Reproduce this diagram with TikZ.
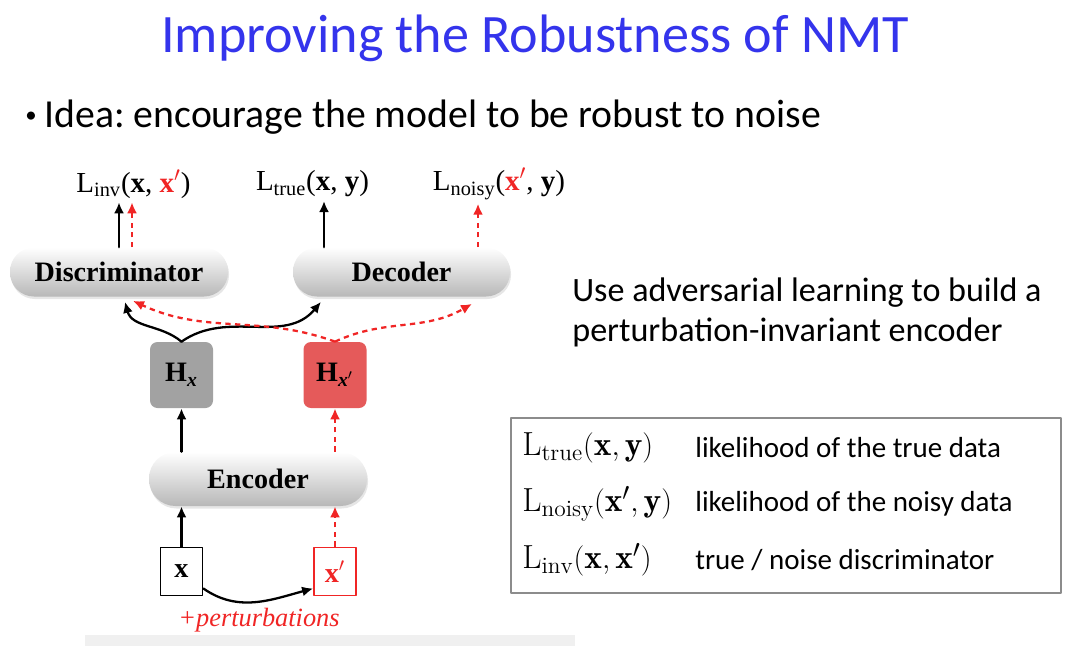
\documentclass[tikz,border=0pt]{standalone}
\usepackage{fontspec}
\usepackage{xcolor}
\usetikzlibrary{arrows.meta,shadows}
\newfontfamily\slidefont{Carlito}
\newfontfamily\paperfont{Liberation Serif}
\definecolor{titleblue}{HTML}{3434EC}
\definecolor{hxgray}{HTML}{A2A2A2}
\definecolor{hxred}{HTML}{E55A5A}
\definecolor{noisered}{HTML}{F02525}
\frenchspacing

\begin{document}
\begin{tikzpicture}[
		line cap=round,
		line join=round,
		pill/.style={rounded corners=0.48cm, minimum height=0.98cm, top color=white, bottom color=black!28,
			drop shadow={opacity=0.2, shadow xshift=0.02cm, shadow yshift=-0.05cm},
			font=\paperfont\fontsize{16}{18}\selectfont\bfseries},
		hstate/.style={rounded corners=0.15cm, minimum width=1.26cm, minimum height=1.32cm,
			font=\paperfont\fontsize{16}{18}\selectfont\bfseries},
		inbox/.style={draw, line width=1pt, minimum width=0.84cm, minimum height=0.96cm,
			font=\paperfont\fontsize{16}{18}\selectfont\bfseries},
		loss/.style={font=\paperfont\fontsize{16.5}{18}\selectfont, inner sep=2pt},
		clean/.style={-{Latex[length=2.2mm,width=2mm]}, line width=1.3pt},
		noisy/.style={-{Latex[length=2.2mm,width=2mm]}, line width=1.3pt, noisered, line cap=butt, dash pattern=on 3pt off 2.5pt}
		]
		\useasboundingbox (0,0) rectangle (21.6,12.92);
		\fill[black!6] (1.7,0) rectangle (11.5,0.22);
		
		\node[font=\slidefont\fontsize{30.8}{36}\selectfont, text=titleblue] (title) at (10.7,12.16) {Improving the Robustness of NMT};
		\node[anchor=west, inner sep=0, font=\slidefont\fontsize{22.6}{26}\selectfont] (idea) at (0.5,10.58)
			{\raisebox{0.12em}{\fontsize{13}{13}\selectfont\textbullet}\hspace{0.2em}Idea: encourage the model to be robust to noise};
		\node[anchor=west, align=left, inner sep=0, font=\slidefont\fontsize{19.4}{22.8}\selectfont] (advers) at (11.44,6.68)
			{Use adversarial learning to build a\\perturbation-invariant encoder};
		
		% Model (left)
		\node[pill, minimum width=4.36cm] (disc) at (2.38,7.48) {Discriminator};
		\node[pill, minimum width=4.34cm] (dec) at (8.03,7.48) {Decoder};
		\node[hstate, fill=hxgray] (hx) at (3.63,5.42) {H\textsubscript{\itshape x}};
		\node[hstate, fill=hxred] (hxn) at (6.70,5.42) {H\textsubscript{\itshape x$'$}};
		\node[pill, minimum width=4.36cm, minimum height=1.08cm, rounded corners=0.53cm] (enc) at (5.16,3.34) {Encoder};
		\node[inbox] (xin) at (3.63,1.49) {x};
		\node[inbox, draw=noisered, text=noisered] (xnoisy) at (6.70,1.49) {x$'$};
		\node[font=\paperfont\itshape\fontsize{15}{18}\selectfont, text=noisered] (pert) at (5.18,0.52) {+perturbations};
		
		\node[loss] (linv) at (2.67,9.24) {L\textsubscript{inv}(\textbf{x}, \textcolor{noisered}{\textbf{x}$'$})};
		\node[loss] (ltrue) at (6.25,9.24) {L\textsubscript{true}(\textbf{x}, \textbf{y})};
		\node[loss] (lnoisy) at (9.98,9.24) {L\textsubscript{noisy}(\textcolor{noisered}{\textbf{x}$'$}, \textbf{y})};
		
		\draw[clean] (disc.north) -- (disc.north |- linv.south);
		\draw[noisy] ([xshift=0.26cm]disc.north) -- ([xshift=0.26cm]disc.north |- linv.south);
		\draw[clean] ([xshift=-1.55cm]dec.north) -- ([xshift=-1.55cm]dec.north |- ltrue.south);
		\draw[noisy] ([xshift=1.53cm]dec.north) -- ([xshift=1.53cm]dec.north |- lnoisy.south);
		
		\draw[clean] (hx.north) to[out=140,in=-75] ([xshift=0.12cm,yshift=-0.1cm]disc.south);
		\draw[clean] (hx.north) to[out=35,in=-130] ([xshift=-1.61cm,yshift=-0.1cm]dec.south);
		\draw[noisy] (hxn.north) to[out=160,in=-25] ([xshift=0.28cm,yshift=-0.08cm]disc.south);
		\draw[noisy] (hxn.north) to[out=25,in=-150] ([xshift=1.41cm,yshift=-0.14cm]dec.south);
		
		\draw[clean] (enc.north -| hx.south) -- (hx.south);
		\draw[noisy] (enc.north -| hxn.south) -- (hxn.south);
		\draw[clean] (xin.north) -- (xin.north |- enc.south);
		\draw[noisy] (xnoisy.north) -- (xnoisy.north |- enc.south);
		\draw[clean] ([yshift=-0.34cm]xin.east) to[out=-35,in=-165] ([yshift=-0.34cm]xnoisy.west);
		
		% Legend (right)
		\node[draw=black!45, line width=0.8pt, minimum width=11cm, minimum height=3.5cm] (legend) at (15.72,2.81) {};
		\foreach [count=\i] \y/\m/\t in {
			3.96/{$\mathrm{L}_{\mathrm{true}}(\mathbf{x},\mathbf{y})$}/{likelihood of the true data},
			2.84/{$\mathrm{L}_{\mathrm{noisy}}(\mathbf{x}',\mathbf{y})$}/{likelihood of the noisy data},
			1.72/{$\mathrm{L}_{\mathrm{inv}}(\mathbf{x},\mathbf{x}')$}/{true / noise discriminator}} {
			\node[anchor=west, inner sep=0, font=\fontsize{19}{22}\selectfont] (m\i) at (10.44,\y) {\m};
			\node[anchor=west, inner sep=0, font=\slidefont\fontsize{16.5}{20}\selectfont] (t\i) at (13.9,\y) {\t};
		}
		
	\end{tikzpicture}
\end{document}
